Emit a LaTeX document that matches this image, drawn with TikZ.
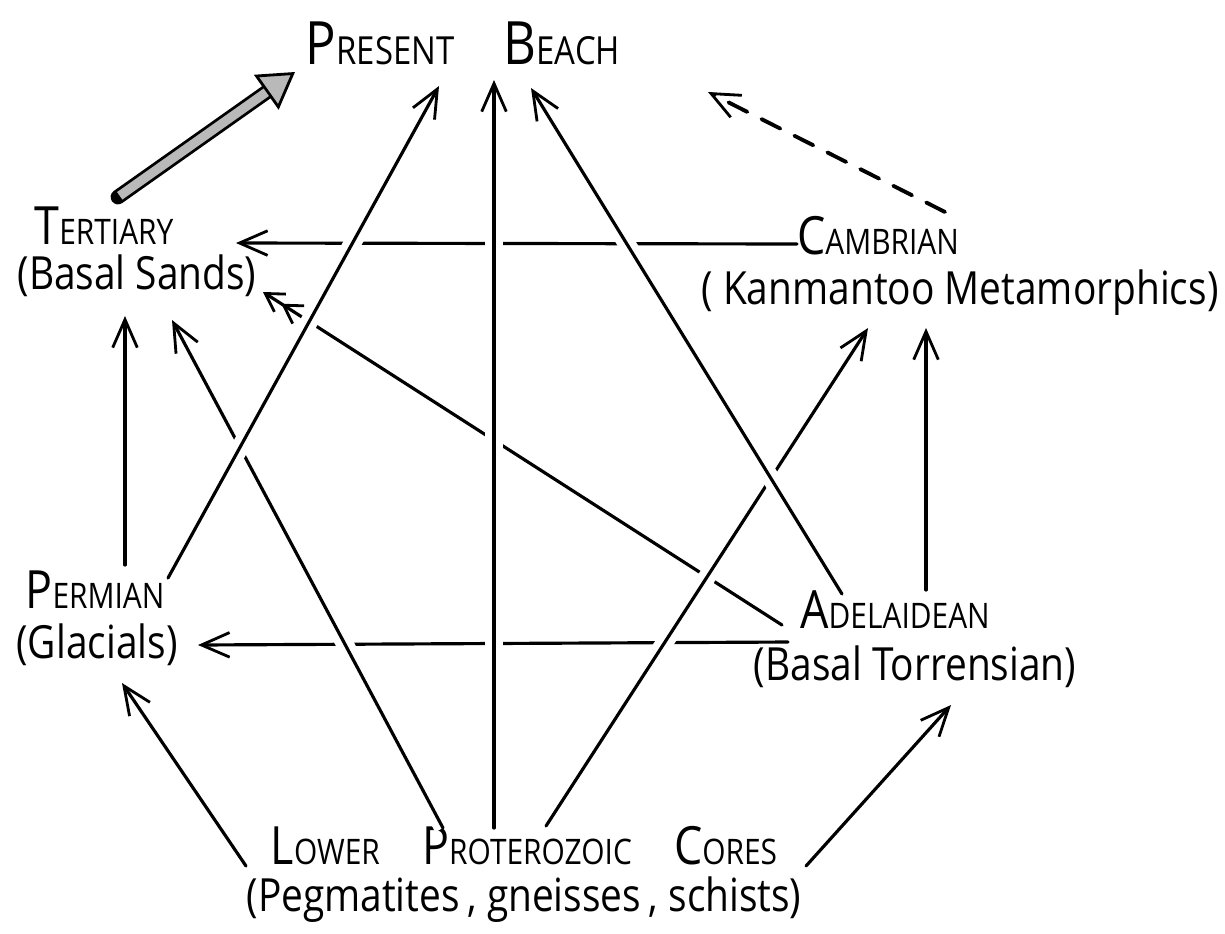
\documentclass[tikz,border=0pt]{standalone}
\usepackage{fontspec}
\newfontfamily\hand[FakeStretch=0.85]{Open Sans}
\usetikzlibrary{arrows.meta}

\newcommand\Cap[2]{{\fontsize{15}{15}\selectfont #1}{\fontsize{10}{10}\selectfont #2}}
\newcommand\CapL[2]{{\fontsize{17}{17}\selectfont #1}{\fontsize{11}{11}\selectfont #2}}

\begin{document}
\begin{tikzpicture}[x=0.01cm, y=-0.01cm,
    every node/.style={inner sep=0pt, font=\hand},
    rock/.style={font=\hand\fontsize{13}{13}\selectfont},
    link/.style={line width=0.9pt, line cap=round},
    barb/.style={-{Straight Barb[length=8pt,width=7pt,line width=0.8pt]}},
    twobarb/.style={-{Straight Barb[length=5pt,width=6pt,line width=0.8pt]Straight Barb[length=5pt,width=6pt,line width=0.8pt]}},
    over/.style={preaction={draw=white, line width=5pt, arrows=-}}]
  \useasboundingbox (0,0) rectangle (1225,933);

  % labels
  \node (beach) at (463,43) {\CapL{P}{RESENT}\hspace{14pt}\CapL{B}{EACH}};
  \node (tert) at (104,226) {\Cap{T}{ERTIARY}};
  \node[rock] (tertsub) at (137,276) {(Basal Sands)};
  \node (camb) at (878,236) {\Cap{C}{AMBRIAN}};
  \node[rock] (cambsub) at (960,293) {( Kanmantoo Metamorphics)};
  \node (perm) at (95,590) {\Cap{P}{ERMIAN}};
  \node[rock] (permsub) at (97,645) {(Glacials)};
  \node (adel) at (895,610) {\Cap{A}{DELAIDEAN}};
  \node[rock] (adelsub) at (915,667) {(Basal Torrensian)};
  \node (lower) at (524,846) {\Cap{L}{OWER}\hspace{12pt}\Cap{P}{ROTEROZOIC}\hspace{12pt}\Cap{C}{ORES}};
  \node[rock] (lowersub) at (524,900) {(Pegmatites\,, gneisses\,, schists)};

  % connector ends
  \coordinate (tert-up) at (118,197);   \coordinate (beach-sw) at (295,72);
  \coordinate (camb-up) at (945,212);   \coordinate (beach-se) at (708,92);
  \coordinate (camb-w) at (797,244);    \coordinate (tert-e) at (236,243);
  \coordinate (adel-w) at (788,642);    \coordinate (perm-e) at (198,645);
  \coordinate (adel-nw) at (782,625);   \coordinate (tert-se) at (263,292);
  \coordinate (perm-n) at (125,565);    \coordinate (tert-s) at (125,316);
  \coordinate (perm-ne) at (168,578);   \coordinate (beach-s1) at (439,86);
  \coordinate (lower-n1) at (443,828);  \coordinate (tert-s2) at (172,320);
  \coordinate (lower-n2) at (494,828);  \coordinate (beach-s2) at (494,80);
  \coordinate (lower-n3) at (546,826);  \coordinate (camb-s1) at (868,328);
  \coordinate (adel-n) at (926,590);    \coordinate (camb-s2) at (926,328);
  \coordinate (adel-n2) at (842,594);   \coordinate (beach-s3) at (531,88);
  \coordinate (lower-w) at (246,866);   \coordinate (perm-s) at (122,683);
  \coordinate (lower-e) at (806,866);   \coordinate (adel-s) at (951,705);

  % back lines
  \draw[link, barb] (camb-w) -- (tert-e);
  \draw[link, barb] (adel-w) -- (perm-e);
  \draw[link, twobarb] (adel-nw) -- (tert-se);
  \draw[link, barb] (perm-n) -- (tert-s);
  \draw[link, barb] (adel-n) -- (camb-s2);
  \draw[link, barb] (lower-w) -- (perm-s);
  \draw[link, barb] (lower-e) -- (adel-s);
  \draw[link, line width=1.1pt, dash pattern=on 6pt off 4.5pt, barb] (camb-up) -- (beach-se);
  \draw[line width=4.2pt, line cap=round, -{Triangle[length=10pt,width=12pt,fill=gray!55,line width=0.8pt]}] (tert-up) -- (beach-sw);
  \draw[line width=2.6pt, gray!55, shorten >=10pt, shorten <=0.6pt] (tert-up) -- (beach-sw);

  % middle lines
  \draw[link, barb, over] (lower-n1) -- (tert-s2);
  \draw[link, barb, over] (lower-n3) -- (camb-s1);

  % front lines
  \draw[link, barb, over] (perm-ne) -- (beach-s1);
  \draw[link, barb, over] (lower-n2) -- (beach-s2);
  \draw[link, barb, over] (adel-n2) -- (beach-s3);
\end{tikzpicture}
\end{document}
